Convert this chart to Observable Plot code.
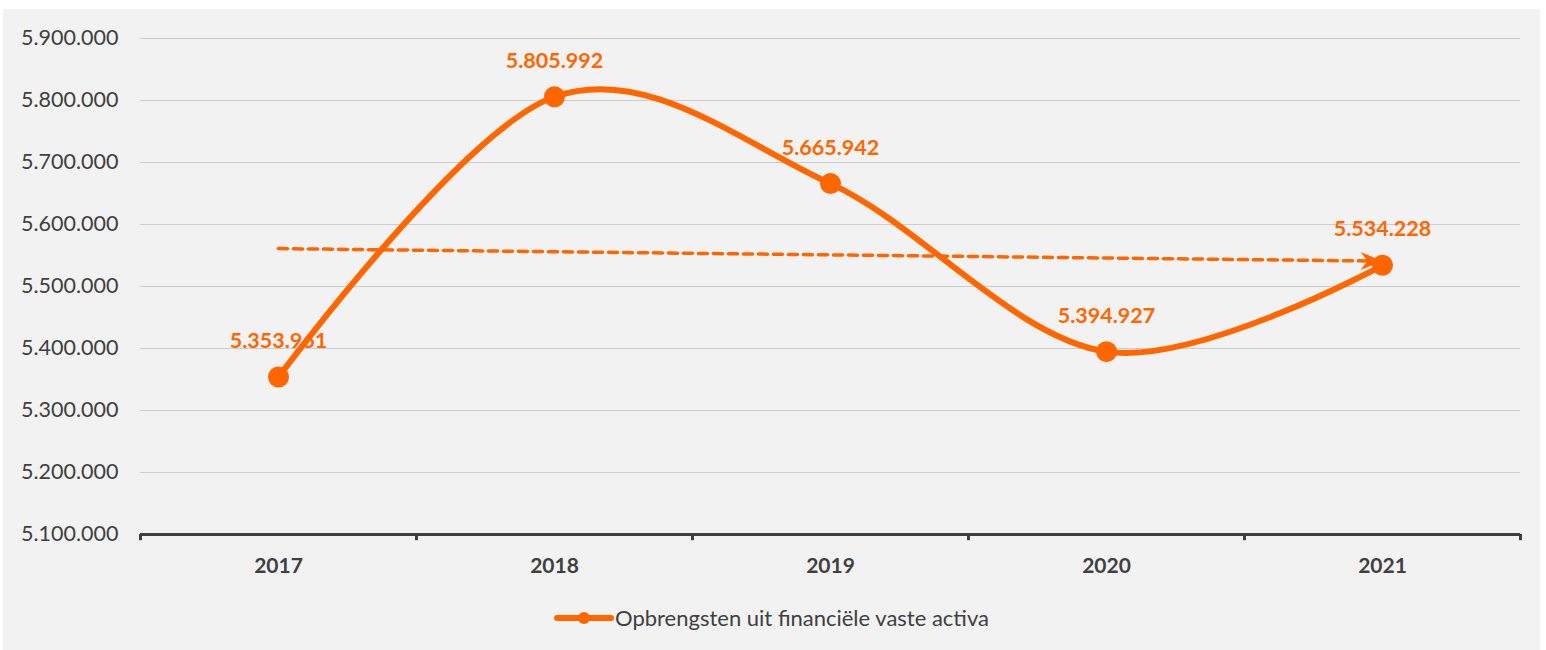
<!DOCTYPE html>
<html>
<head>
<meta charset="utf-8">
<script src="https://cdn.jsdelivr.net/npm/d3@7"></script>
<script src="https://cdn.jsdelivr.net/npm/@observablehq/plot@0.6"></script>
<style>
  html, body { margin: 0; padding: 0; background: #ffffff; }
  #panel { position: absolute; left: 3px; top: 9px; width: 1537px; height: 641px; background: #f2f2f2; font-family: Lato, "Open Sans", sans-serif; }
  #chart svg { display: block; }
  #legend { position: absolute; left: 0; width: 100%; top: 595px; display: flex; justify-content: center; align-items: center; font-size: 22px; color: #404040; }
  #legend svg { margin-right: 1px; }
</style>
</head>
<body>
<div id="panel">
  <div id="chart"></div>
  <div id="legend"></div>
</div>
<script>
const years = [2017, 2018, 2019, 2020, 2021];
const values = [5353961, 5805992, 5665942, 5394927, 5534228];
const yTicks = [5100000, 5200000, 5300000, 5400000, 5500000, 5600000, 5700000, 5800000, 5900000];
const seriesName = "Opbrengsten uit financiële vaste activa";
const orange = "#ff6600";
const textColor = "#404040";

const nl = d3.formatLocale({decimal: ",", thousands: ".", grouping: [3], currency: ["€", ""]});
const fmt = nl.format(",");

const data = years.map((year, i) => ({year, value: values[i]}));

// linear trend (least squares) derived from the data
const n = years.length;
const mx = d3.mean(years), my = d3.mean(values);
const slope = d3.sum(years, (x, i) => (x - mx) * (values[i] - my)) / d3.sum(years, x => (x - mx) ** 2);
const trend = [years[0], years[n - 1]].map(x => ({year: x, value: my + slope * (x - mx)}));

const boundaries = d3.range(years[0] - 0.5, years[n - 1] + 1, 1);
const yMin = yTicks[0], yMax = yTicks[yTicks.length - 1];

const plot = Plot.plot({
  width: 1537,
  height: 580,
  marginLeft: 137,
  marginRight: 20,
  marginTop: 29,
  marginBottom: 55,
  style: {background: "transparent", fontFamily: "Lato, 'Open Sans', sans-serif", color: textColor, fontSize: "21.5px"},
  x: {domain: [years[0] - 0.5, years[n - 1] + 0.5], axis: null},
  y: {domain: [yMin, yMax], ticks: yTicks, tickFormat: fmt, tickSize: 0, tickPadding: 22, label: null},
  marks: [
    Plot.ruleY(yTicks.slice(1), {stroke: "#cccccc", strokeWidth: 1.2}),
    Plot.ruleY([yMin], {stroke: textColor, strokeWidth: 3}),
    Plot.ruleX(boundaries, {y1: yMin, y2: yMin - 10000, stroke: textColor, strokeWidth: 3}),
    Plot.text(years, {x: d => d, y: yMin, text: d => String(d), dy: 32, fontSize: 21, fontWeight: "bold", fill: textColor}),
    Plot.line(trend, {x: "year", y: "value", stroke: orange, strokeWidth: 3.5, strokeDasharray: "9,6", strokeLinecap: "round"}),
    Plot.line(data, {x: "year", y: "value", stroke: orange, strokeWidth: 6, curve: "cardinal"}),
    Plot.dot(data, {x: "year", y: "value", r: 10.5, fill: orange}),
    Plot.text(data, {x: "year", y: "value", text: d => fmt(d.value), dy: -36, fontSize: 21.5, fontWeight: "bold", fill: orange})
  ]
});

// filled arrowhead on the trend line
const svg = d3.select(plot);
const defs = svg.insert("defs", ":first-child");
defs.append("marker")
  .attr("id", "trend-arrow")
  .attr("viewBox", "-24 -10 26 20")
  .attr("markerWidth", 26).attr("markerHeight", 20)
  .attr("markerUnits", "userSpaceOnUse")
  .attr("refX", 0).attr("refY", 0)
  .attr("orient", "auto")
  .append("path")
  .attr("d", "M0,0 L-22,-9 L-15,0 L-22,9 Z")
  .attr("fill", orange);
svg.selectAll("g[stroke-dasharray] path").attr("marker-end", "url(#trend-arrow)");

document.getElementById("chart").appendChild(plot);

// legend
const legend = document.getElementById("legend");
const ls = d3.create("svg").attr("width", 60).attr("height", 20);
ls.append("line").attr("x1", 3).attr("x2", 57).attr("y1", 10).attr("y2", 10).attr("stroke", orange).attr("stroke-width", 6).attr("stroke-linecap", "round");
ls.append("circle").attr("cx", 30).attr("cy", 10).attr("r", 6).attr("fill", orange);
legend.appendChild(ls.node());
const lt = document.createElement("span");
lt.textContent = seriesName;
legend.appendChild(lt);
</script>
</body>
</html>
